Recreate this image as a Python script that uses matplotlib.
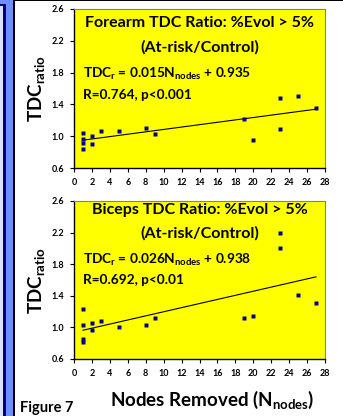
import matplotlib
matplotlib.use("Agg")
import matplotlib.pyplot as plt
from matplotlib.patches import Rectangle

plt.rcParams['font.family'] = ['Lato', 'DejaVu Sans']
plt.rcParams['font.weight'] = 'bold'
plt.rcParams['mathtext.fontset'] = 'custom'
plt.rcParams['mathtext.rm'] = 'Lato:bold'
plt.rcParams['mathtext.it'] = 'Lato:bold'
plt.rcParams['mathtext.bf'] = 'Lato:bold'

# forearm data
fa_x = [1, 1, 1, 1, 2, 2, 3, 5, 8, 9, 19, 20, 23, 23, 25, 27]
fa_y = [1.04, 0.96, 0.92, 0.84, 1.00, 0.90, 1.06, 1.06, 1.10, 1.03,
        1.22, 0.95, 1.48, 1.09, 1.51, 1.35]
fa_fit = (0.015, 0.935)

# biceps data
bi_x = [1, 1, 1, 1, 2, 2, 3, 5, 8, 9, 19, 20, 23, 23, 25, 27]
bi_y = [1.23, 1.03, 0.85, 0.82, 1.06, 0.97, 1.08, 1.01, 1.03, 1.12,
        1.12, 1.15, 2.20, 2.01, 1.41, 1.31]
bi_fit = (0.026, 0.938)

fit_range = [1, 27]
xticks = list(range(0, 29, 2))
yticks = [0.6, 1.0, 1.4, 1.8, 2.2, 2.6]

fig = plt.figure(figsize=(3.43, 4.16), dpi=100)

# left decoration strip
W, H = 343, 416
def px_rect(x0, y0, w, h, color):
    fig.patches.append(Rectangle((x0 / W, 1 - (y0 + h) / H), w / W, h / H,
                                 transform=fig.transFigure, color=color, lw=0))
px_rect(0, 0, 13, H, '#6F8FFF')
px_rect(0, 6, 3.5, H, '#DDE3FF')
px_rect(3.5, 4, 2, H, '#000080')
px_rect(0, 4, 5.5, 2, '#000080')
px_rect(13, 0, 2, H, 'black')
px_rect(13, 0, W - 13, 1.2, 'black')


def panel(rect, x, y, fit, title, eq, rtxt, ty1, ty2, ey, ry):
    ax = fig.add_axes(rect)
    ax.set_facecolor('#FFFF00')
    ax.plot(x, y, 's', color='#000099', ms=3.0, mec='none', zorder=3)
    ax.plot(fit_range, [fit[0] * v + fit[1] for v in fit_range],
            color='black', lw=0.8)
    ax.set_xlim(0, 28)
    ax.set_ylim(0.6, 2.6)
    ax.set_xticks(xticks)
    ax.set_yticks(yticks)
    ax.set_yticklabels(['%.1f' % v for v in yticks])
    ax.tick_params(labelsize=6.5, length=3, width=0.8, pad=4)
    for s in ['top', 'right']:
        ax.spines[s].set_color('#808080')
    for s in ['left', 'bottom']:
        ax.spines[s].set_color('black')
        ax.spines[s].set_linewidth(1.0)
    ax.text(0.5, ty1, title, transform=ax.transAxes, ha='center',
            va='center', fontsize=11.5, fontweight='bold')
    ax.text(0.5, ty2, '(At-risk/Control)', transform=ax.transAxes,
            ha='center', va='center', fontsize=11.5, fontweight='bold')
    ax.text(0.035, ey, eq, transform=ax.transAxes, ha='left',
            va='center', fontsize=9.8, fontweight='bold')
    ax.text(0.035, ry, rtxt, transform=ax.transAxes, ha='left',
            va='center', fontsize=9.8, fontweight='bold')
    ax.set_ylabel(r'TDC$_{\mathrm{ratio}}$', fontsize=13.5, fontweight='bold',
                  labelpad=3)
    return ax


ax1 = panel([74 / W, 1 - 168 / H, 251 / W, 159 / H], fa_x, fa_y, fa_fit,
            'Forearm TDC Ratio: %Evol > 5%',
            r'TDC$_{\mathrm{r}}$ = 0.015N$_{\mathrm{nodes}}$ + 0.935',
            'R=0.764, p<0.001', 0.912, 0.761, 0.591, 0.459)
ax2 = panel([74 / W, 1 - 359 / H, 251 / W, 158 / H], bi_x, bi_y, bi_fit,
            'Biceps TDC Ratio: %Evol > 5%',
            r'TDC$_{\mathrm{r}}$ = 0.026N$_{\mathrm{nodes}}$ + 0.938',
            'R=0.692, p<0.01', 0.943, 0.797, 0.627, 0.50)
ax2.set_xlabel(r'Nodes Removed (N$_{\mathrm{nodes}}$)', fontsize=13.5,
               fontweight='bold', labelpad=3)
ax2.xaxis.set_label_coords(0.55, -0.19)

fig.text(20 / W, 1 - 408 / H, 'Figure 7', fontsize=10.5, fontweight='bold',
         ha='left', va='center')

fig.savefig('out.png', dpi=100)
